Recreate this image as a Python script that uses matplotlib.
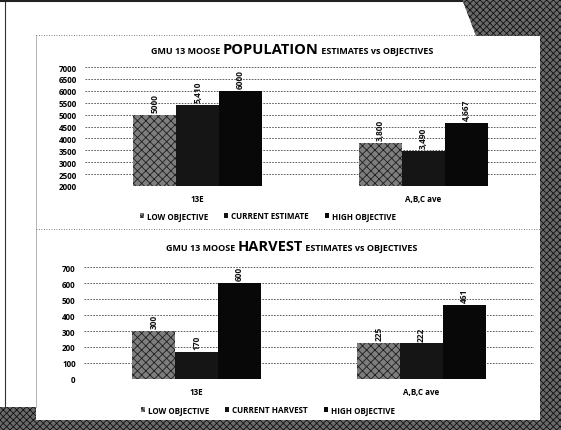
import numpy as np
import matplotlib.pyplot as plt
from matplotlib.patches import Rectangle, Polygon
from matplotlib.offsetbox import TextArea, HPacker, AnchoredOffsetbox

plt.rcParams['font.family'] = ['Open Sans', 'DejaVu Sans']
plt.rcParams['hatch.linewidth'] = 0.6

# Số liệu nai sừng tấm GMU 13
categories = ['13E', 'A,B,C ave']
pop_low = [5000, 3800]
pop_current = [5410, 3490]
pop_high = [6000, 4667]
pop_labels = [['5000', '3,800'], ['5,410', '3,490'], ['6000', '4,667']]
pop_ticks = [2000, 2500, 3000, 3500, 4000, 4500, 5000, 5500, 6000, 6500, 7000]

harv_low = [300, 225]
harv_current = [170, 222]
harv_high = [600, 461]
harv_labels = [['300', '225'], ['170', '222'], ['600', '461']]
harv_ticks = [0, 100, 200, 300, 400, 500, 600, 700]

W, H = 561, 431
fig = plt.figure(figsize=(W / 100, H / 100), dpi=100)
fig.patch.set_facecolor('white')


def box(x0, y0, x1, y1):
    # toạ độ pixel (gốc trên-trái) -> toạ độ figure
    return [x0 / W, 1 - y1 / H, (x1 - x0) / W, (y1 - y0) / H]


def draw_chart(rect, low, cur, high, labels, ticks, ylim, legend_names, leg_y):
    ax = fig.add_axes(box(*rect))
    x = np.arange(len(categories))
    bw = 0.19
    series = [low, cur, high]
    styles = [dict(facecolor='#7e7e7e', edgecolor='#1e1e1e', hatch='xxxx', linewidth=0),
              dict(facecolor='#151515', edgecolor='#151515', linewidth=0),
              dict(facecolor='#080808', edgecolor='#080808', linewidth=0)]
    for i, (vals, st) in enumerate(zip(series, styles)):
        b = ax.bar(x + (i - 1) * bw, vals, bw, label=legend_names[i], zorder=3, **st)
        for rect_, txt in zip(b, labels[i]):
            ax.annotate(txt, (rect_.get_x() + rect_.get_width() / 2, rect_.get_height()),
                        xytext=(0, 2), textcoords='offset points', rotation=90,
                        ha='center', va='bottom', fontsize=6, fontweight='bold', color='#111111')
    ax.set_xlim(-0.5, 1.5)
    ax.set_ylim(*ylim)
    ax.set_yticks(ticks)
    ax.set_yticklabels([str(t) for t in ticks], fontsize=5.8, fontweight='bold')
    ax.set_xticks(x)
    ax.set_xticklabels(categories, fontsize=5.8, fontweight='bold')
    ax.tick_params(length=0, pad=6)
    ax.yaxis.grid(True, linestyle=(0, (2, 1.5)), color='#444444', linewidth=0.6, zorder=0)
    for s in ax.spines.values():
        s.set_visible(False)
    ax.set_facecolor('none')
    handles = [Rectangle((0, 0), 1, 1, **st) for st in styles]
    fig.legend(handles, legend_names, loc='center', bbox_to_anchor=(268 / W, 1 - leg_y / H),
               ncol=3, frameon=False, handlelength=0.5, handleheight=0.5,
               handletextpad=0.4, columnspacing=2.0, prop={'weight': 'bold', 'size': 5.8})
    return ax


def title(big, y):
    parts = [TextArea('GMU 13 MOOSE ', textprops=dict(fontsize=6.5, fontweight='bold')),
             TextArea(big, textprops=dict(fontsize=10.5, fontweight='bold')),
             TextArea(' ESTIMATES vs OBJECTIVES', textprops=dict(fontsize=6.5, fontweight='bold'))]
    pack = HPacker(children=parts, align='baseline', pad=0, sep=0)
    ab = AnchoredOffsetbox(loc='center', child=pack, frameon=False,
                           bbox_to_anchor=(292 / W, 1 - y / H), bbox_transform=fig.transFigure,
                           borderpad=0)
    fig.add_artist(ab)


draw_chart((85, 68, 536, 187), pop_low, pop_current, pop_high, pop_labels, pop_ticks,
           (2000, 7000), ['LOW OBJECTIVE', 'CURRENT ESTIMATE', 'HIGH OBJECTIVE'], 217)
title('POPULATION', 50)

draw_chart((84, 268, 534, 380), harv_low, harv_current, harv_high, harv_labels, harv_ticks,
           (0, 700), ['LOW OBJECTIVE', 'CURRENT HARVEST', 'HIGH OBJECTIVE'], 411)
title('HARVEST', 247)

# khung trang scan
deco = fig.add_axes([0, 0, 1, 1])
deco.set_xlim(0, W)
deco.set_ylim(H, 0)
deco.axis('off')
deco.set_zorder(-1)
deco.plot([5, 5], [0, 408], color='#333333', lw=0.8)
deco.plot([0, 462], [2, 2], color='#222222', lw=1.5)
deco.plot([36, 36], [36, 408], color='#aaaaaa', lw=0.6)
deco.plot([36, 540], [36, 36], color='#555555', lw=0.6, linestyle=(0, (1, 2)))
deco.plot([36, 540], [230, 230], color='#555555', lw=0.6, linestyle=(0, (1, 2)))
dither = dict(facecolor='#6a6a6a', edgecolor='#111111', hatch='xxxxx', linewidth=0)
deco.add_patch(Polygon([(462, 0), (561, 0), (561, 431), (540, 431), (540, 37), (476, 37)], **dither))
deco.add_patch(Rectangle((0, 421), 561, 10, **dither))
deco.add_patch(Rectangle((0, 408), 36, 23, **dither))

fig.savefig('out.png', dpi=100)
